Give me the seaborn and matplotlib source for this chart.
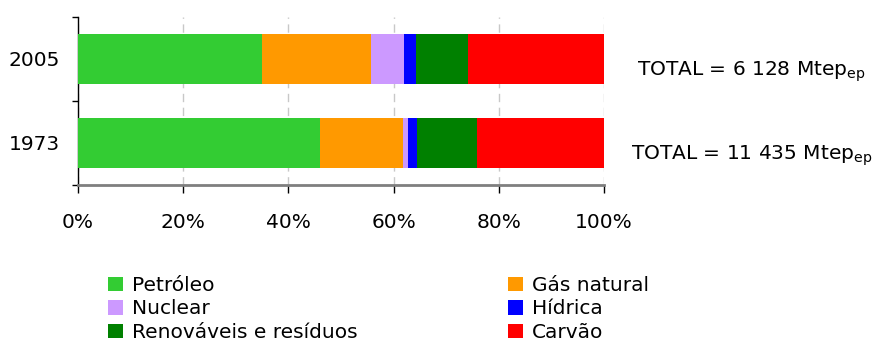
import numpy as np
import pandas as pd
import matplotlib
matplotlib.use("Agg")
import matplotlib.pyplot as plt
import matplotlib.transforms as mtransforms
from matplotlib.patches import Patch
import seaborn as sns

# Shares of world primary energy supply (%)
years = ["2005", "1973"]
sources = ["Petróleo", "Gás natural", "Nuclear", "Hídrica", "Renováveis e resíduos", "Carvão"]
petroleo = [35.0, 46.0]
gas_natural = [20.7, 15.8]
nuclear = [6.3, 0.9]
hidrica = [2.2, 1.7]
renovaveis = [10.0, 11.5]
carvao = [25.8, 24.1]
totals = ["TOTAL = 6 128 Mtep$_{\\mathregular{ep}}$", "TOTAL = 11 435 Mtep$_{\\mathregular{ep}}$"]
xtick_values = [0, 20, 40, 60, 80, 100]
colors = ["#33cc33", "#ff9900", "#cc99ff", "#0000ff", "#008000", "#ff0000"]

series = [petroleo, gas_natural, nuclear, hidrica, renovaveis, carvao]
df = pd.DataFrame({s: v for s, v in zip(sources, series)}, index=years)
cum = df.cumsum(axis=1)

sns.set_style("white")
plt.rcParams["font.family"] = ["DejaVu Sans"]
plt.rcParams["text.color"] = "black"
plt.rcParams["xtick.color"] = "black"
plt.rcParams["ytick.color"] = "black"

FS = 14.5

fig = plt.figure(figsize=(8.74, 3.43), dpi=100)
ax = fig.add_axes([78 / 874, 1 - 185 / 343, 526 / 874, 168 / 343])

# stacked bars: draw cumulative totals from the widest to the narrowest
for src, col in reversed(list(zip(sources, colors))):
    d = pd.DataFrame({"ano": years, "valor": cum[src].values})
    sns.barplot(data=d, x="valor", y="ano", orient="h", color=col,
                width=0.6, ax=ax, saturation=1, linewidth=0, zorder=3)

ax.set_xlim(0, 100)
ax.set_ylim(1.5, -0.5)
ax.set_xlabel("")
ax.set_ylabel("")
ax.set_xticks(xtick_values)
ax.set_xticklabels([f"{v}%" for v in xtick_values], fontsize=FS)
ax.tick_params(axis="x", direction="out", length=6, width=1, color="black", pad=14, bottom=True)
ax.tick_params(axis="y", length=0, pad=13, labelsize=FS)
ax.set_yticks([-0.5, 0.5, 1.5], minor=True)
ax.tick_params(axis="y", which="minor", length=4, width=1, color="black", left=True)

ax.grid(axis="x", color="#c8c8c8", linestyle=(0, (6, 4)), linewidth=1, zorder=0)
ax.set_axisbelow(True)
for side in ["top", "right"]:
    ax.spines[side].set_visible(False)
ax.spines["left"].set_color("black")
ax.spines["left"].set_linewidth(1)
ax.spines["bottom"].set_color("#7f7f7f")
ax.spines["bottom"].set_linewidth(2)

trans = mtransforms.blended_transform_factory(ax.transAxes, ax.transData)
for i, t in enumerate(totals):
    ax.text(1.28, i + 0.15, t, transform=trans, ha="center", va="center",
            fontsize=FS, clip_on=False)

# legend in two columns
columns = [[0, 2, 4], [1, 3, 5]]
x_starts = [102, 502]
for cols, x0 in zip(columns, x_starts):
    handles = [Patch(facecolor=colors[k], edgecolor="none", label=sources[k]) for k in cols]
    fig.legend(handles=handles, ncol=1, loc="upper left",
               bbox_to_anchor=(x0 / 874, 1 - 270 / 343), frameon=False, fontsize=FS,
               handlelength=0.75, handleheight=0.75, handletextpad=0.45,
               labelspacing=0.22, borderaxespad=0, borderpad=0.3)

fig.savefig("out.png", dpi=100)
